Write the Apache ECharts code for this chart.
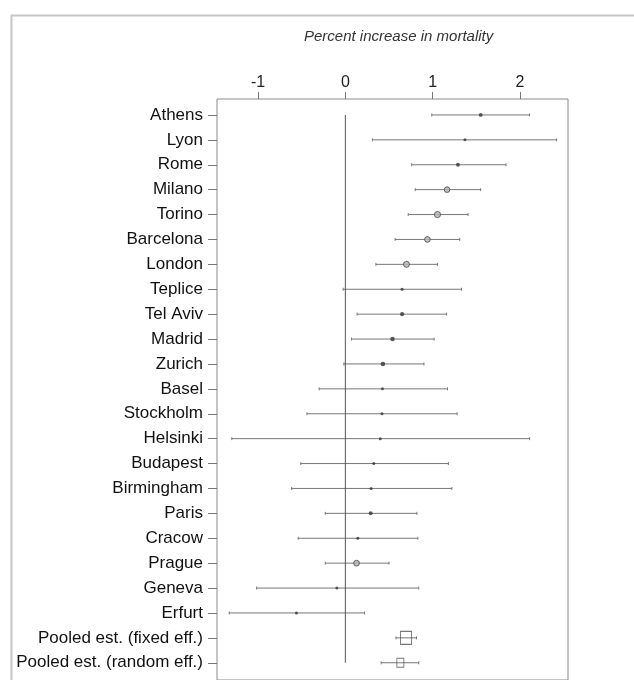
<!DOCTYPE html>
<html>
<head>
<meta charset="utf-8">
<script src="https://cdn.jsdelivr.net/npm/echarts@6/dist/echarts.min.js"></script>
<style>
html,body{margin:0;padding:0;background:#fff;}
#chart{width:634px;height:680px;}
</style>
</head>
<body>
<div id="chart"></div>
<script>
// ---- data ----
var cities = ['Athens','Lyon','Rome','Milano','Torino','Barcelona','London','Teplice','Tel Aviv','Madrid','Zurich','Basel','Stockholm','Helsinki','Budapest','Birmingham','Paris','Cracow','Prague','Geneva','Erfurt','Pooled est. (fixed eff.)','Pooled est. (random eff.)'];
var estimate = [1.55,1.37,1.29,1.165,1.055,0.94,0.70,0.65,0.65,0.54,0.43,0.425,0.42,0.40,0.326,0.295,0.29,0.143,0.128,-0.097,-0.56,0.695,0.63];
var lower = [0.99,0.31,0.76,0.80,0.72,0.57,0.35,-0.025,0.135,0.07,-0.017,-0.30,-0.44,-1.30,-0.51,-0.615,-0.23,-0.54,-0.23,-1.016,-1.33,0.58,0.41];
var upper = [2.11,2.42,1.84,1.55,1.405,1.31,1.055,1.33,1.16,1.017,0.90,1.17,1.28,2.11,1.18,1.22,0.82,0.83,0.50,0.84,0.22,0.815,0.84];
var xTicks = [-1,0,1,2];
var xTitle = 'Percent increase in mortality';
var nPooled = 2;

// ---- build ----
var nCity = cities.length - nPooled;
var sans = "'Liberation Sans',Arial,sans-serif";
var ciData = cities.map(function(c,i){ return [lower[i], upper[i], i]; });
var cityPts = [];
for (var i = 0; i < nCity; i++) cityPts.push([estimate[i], i, upper[i]-lower[i]]);
var pooledPts = [];
for (var j = nCity; j < cities.length; j++) pooledPts.push([estimate[j], j]);

var chart = echarts.init(document.getElementById('chart'));
chart.setOption({
  animation: false,
  backgroundColor: '#fff',
  title: {
    text: xTitle, left: 299, top: 24,
    textStyle: {fontFamily: sans, fontStyle: 'italic', fontWeight: 'normal', fontSize: 15, color: '#333'}
  },
  graphic: [{
    type: 'rect', left: 9, top: 13, silent: true,
    shape: {width: 660, height: 700},
    style: {fill: 'none', stroke: '#c6c6c6', lineWidth: 2}
  }],
  grid: [
    {left: 217, right: 66, top: 99, bottom: -20, show: true, borderColor: '#8a8a8a', borderWidth: 1, backgroundColor: '#fff'},
    {left: 217, right: 66, top: 102.5, bottom: 4.8}
  ],
  xAxis: [
    {
      gridIndex: 1, type: 'value', position: 'top', offset: 3.5,
      min: -1.47, max: 2.55,
      axisLine: {show: false, onZero: false},
      splitLine: {show: false},
      axisTick: {show: true, length: 7, customValues: xTicks, lineStyle: {color: '#777'}},
      axisLabel: {customValues: xTicks, margin: 8, fontFamily: sans, fontSize: 16, color: '#222'}
    },
    {gridIndex: 0, type: 'value', show: false, min: 0, max: 1}
  ],
  yAxis: [
    {
      gridIndex: 1, type: 'category', data: cities, inverse: true, position: 'left',
      axisLine: {show: false, onZero: false},
      axisTick: {show: true, alignWithLabel: true, length: 9, lineStyle: {color: '#777'}},
      axisLabel: {margin: 14, fontFamily: sans, fontSize: 17, color: '#111', interval: 0}
    },
    {gridIndex: 0, type: 'value', show: false, min: 0, max: 1}
  ],
  series: [
    {
      type: 'line', xAxisIndex: 0, yAxisIndex: 0, symbol: 'none', silent: true,
      data: [[0, cities[0]], [0, cities[cities.length-1]]],
      lineStyle: {color: '#555', width: 1}
    },
    {
      type: 'custom', xAxisIndex: 0, yAxisIndex: 0, silent: true,
      data: ciData,
      encode: {x: [0,1], y: 2},
      renderItem: function(params, api){
        var a = api.coord([api.value(0), api.value(2)]);
        var b = api.coord([api.value(1), api.value(2)]);
        var st = {stroke: '#777', lineWidth: 1};
        return {type: 'group', children: [
          {type: 'line', shape: {x1: a[0], y1: a[1], x2: b[0], y2: b[1]}, style: st},
          {type: 'line', shape: {x1: a[0], y1: a[1]-1.5, x2: a[0], y2: a[1]+1.5}, style: st},
          {type: 'line', shape: {x1: b[0], y1: b[1]-1.5, x2: b[0], y2: b[1]+1.5}, style: st}
        ]};
      }
    },
    {
      type: 'scatter', xAxisIndex: 0, yAxisIndex: 0, silent: true,
      data: cityPts.map(function(p){
        var s = Math.max(3, Math.min(6.5, 4.2 / p[2]));
        var big = s >= 5;
        return {value: [p[0], p[1]], symbolSize: s,
          itemStyle: big ? {color: '#b5b5b5', borderColor: '#444', borderWidth: 1} : {color: '#333'}};
      })
    },
    {
      type: 'scatter', xAxisIndex: 0, yAxisIndex: 0, silent: true, symbol: 'rect',
      data: pooledPts.map(function(p, k){
        return {value: p, symbolSize: k === 0 ? [11,13] : [7,9]};
      }),
      itemStyle: {color: 'rgba(255,255,255,0)', borderColor: '#555', borderWidth: 1}
    }
  ]
});
</script>
</body>
</html>
